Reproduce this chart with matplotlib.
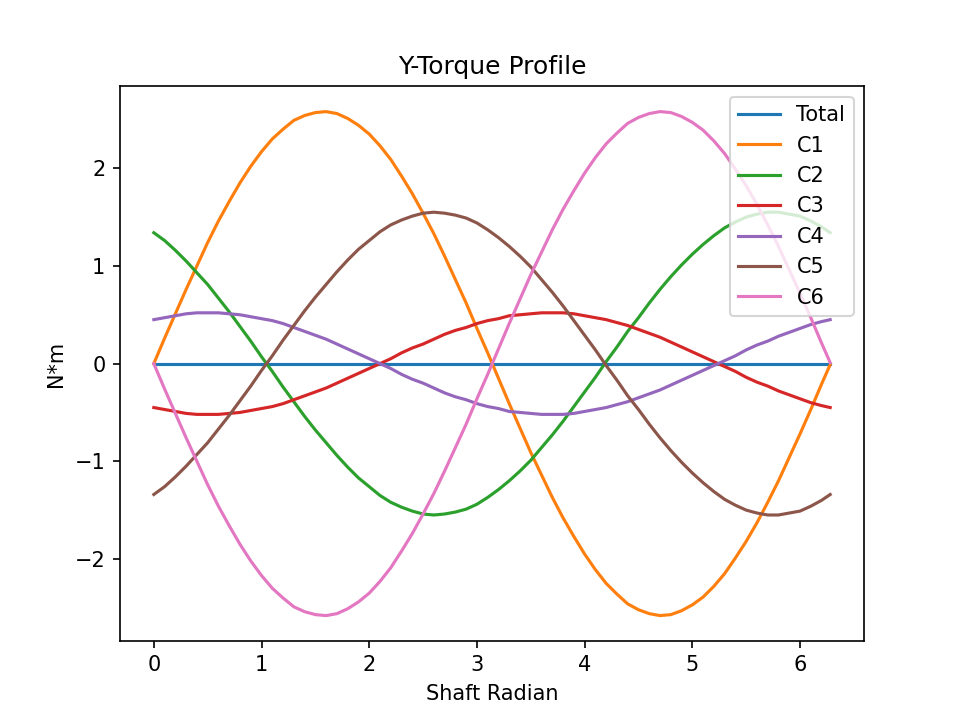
import matplotlib
matplotlib.use("Agg")
import matplotlib.pyplot as plt

# Shaft angle samples (rad)
shaft_rad = [0.0, 0.1, 0.2, 0.3, 0.4, 0.5, 0.6, 0.7, 0.8, 0.9,
             1.0, 1.1, 1.2, 1.3, 1.4, 1.5, 1.6, 1.7, 1.8, 1.9,
             2.0, 2.1, 2.2, 2.3, 2.4, 2.5, 2.6, 2.7, 2.8, 2.9,
             3.0, 3.1, 3.2, 3.3, 3.4, 3.5, 3.6, 3.7, 3.8, 3.9,
             4.0, 4.1, 4.2, 4.3, 4.4, 4.5, 4.6, 4.7, 4.8, 4.9,
             5.0, 5.1, 5.2, 5.3, 5.4, 5.5, 5.6, 5.7, 5.8, 5.9,
             6.0, 6.1, 6.2, 6.28]

# Torque per component (N*m)
total = [0.0] * 64
c1 = [0.0, 0.26, 0.51, 0.76, 1.00, 1.24, 1.46, 1.66, 1.85, 2.02,
      2.17, 2.30, 2.40, 2.49, 2.54, 2.57, 2.58, 2.56, 2.51, 2.44,
      2.35, 2.23, 2.09, 1.92, 1.74, 1.54, 1.33, 1.10, 0.86, 0.62,
      0.36, 0.11, -0.15, -0.41, -0.66, -0.91, -1.14, -1.37, -1.58, -1.77,
      -1.95, -2.11, -2.25, -2.36, -2.46, -2.52, -2.56, -2.58, -2.57, -2.53,
      -2.47, -2.39, -2.28, -2.15, -1.99, -1.82, -1.63, -1.42, -1.20, -0.96,
      -0.72, -0.47, -0.21, -0.01]
c2 = [1.34, 1.26, 1.16, 1.05, 0.93, 0.81, 0.67, 0.53, 0.38, 0.23,
      0.07, -0.08, -0.24, -0.39, -0.54, -0.68, -0.81, -0.94, -1.06, -1.17,
      -1.26, -1.35, -1.42, -1.47, -1.51, -1.54, -1.55, -1.54, -1.52, -1.49,
      -1.44, -1.37, -1.29, -1.20, -1.10, -0.99, -0.86, -0.73, -0.59, -0.44,
      -0.29, -0.14, 0.02, 0.17, 0.33, 0.47, 0.62, 0.76, 0.89, 1.01,
      1.12, 1.22, 1.31, 1.39, 1.45, 1.50, 1.53, 1.55, 1.55, 1.53,
      1.51, 1.46, 1.40, 1.34]
c3 = [-0.45, -0.47, -0.49, -0.51, -0.52, -0.52, -0.52, -0.51, -0.50, -0.48,
      -0.46, -0.44, -0.41, -0.37, -0.33, -0.29, -0.25, -0.20, -0.15, -0.10,
      -0.05, 0.00, 0.05, 0.11, 0.16, 0.20, 0.25, 0.30, 0.34, 0.37,
      0.41, 0.44, 0.46, 0.49, 0.50, 0.51, 0.52, 0.52, 0.52, 0.51,
      0.49, 0.47, 0.45, 0.42, 0.39, 0.35, 0.31, 0.27, 0.22, 0.17,
      0.12, 0.07, 0.02, -0.03, -0.08, -0.14, -0.19, -0.23, -0.28, -0.32,
      -0.36, -0.40, -0.43, -0.45]
c4 = [0.45, 0.47, 0.49, 0.51, 0.52, 0.52, 0.52, 0.51, 0.50, 0.48,
      0.46, 0.44, 0.41, 0.37, 0.33, 0.29, 0.25, 0.20, 0.15, 0.10,
      0.05, 0.00, -0.05, -0.11, -0.16, -0.20, -0.25, -0.30, -0.34, -0.37,
      -0.41, -0.44, -0.46, -0.49, -0.50, -0.51, -0.52, -0.52, -0.52, -0.51,
      -0.49, -0.47, -0.45, -0.42, -0.39, -0.35, -0.31, -0.27, -0.22, -0.17,
      -0.12, -0.07, -0.02, 0.03, 0.08, 0.14, 0.19, 0.23, 0.28, 0.32,
      0.36, 0.40, 0.43, 0.45]
c5 = [-1.34, -1.26, -1.16, -1.05, -0.93, -0.81, -0.67, -0.53, -0.38, -0.23,
      -0.07, 0.08, 0.24, 0.39, 0.54, 0.68, 0.81, 0.94, 1.06, 1.17,
      1.26, 1.35, 1.42, 1.47, 1.51, 1.54, 1.55, 1.54, 1.52, 1.49,
      1.44, 1.37, 1.29, 1.20, 1.10, 0.99, 0.86, 0.73, 0.59, 0.44,
      0.29, 0.14, -0.02, -0.17, -0.33, -0.47, -0.62, -0.76, -0.89, -1.01,
      -1.12, -1.22, -1.31, -1.39, -1.45, -1.50, -1.53, -1.55, -1.55, -1.53,
      -1.51, -1.46, -1.40, -1.34]
c6 = [0.0, -0.26, -0.51, -0.76, -1.00, -1.24, -1.46, -1.66, -1.85, -2.02,
      -2.17, -2.30, -2.40, -2.49, -2.54, -2.57, -2.58, -2.56, -2.51, -2.44,
      -2.35, -2.23, -2.09, -1.92, -1.74, -1.54, -1.33, -1.10, -0.86, -0.62,
      -0.36, -0.11, 0.15, 0.41, 0.66, 0.91, 1.14, 1.37, 1.58, 1.77,
      1.95, 2.11, 2.25, 2.36, 2.46, 2.52, 2.56, 2.58, 2.57, 2.53,
      2.47, 2.39, 2.28, 2.15, 1.99, 1.82, 1.63, 1.42, 1.20, 0.96,
      0.72, 0.47, 0.21, 0.01]

labels = ["Total", "C1", "C2", "C3", "C4", "C5", "C6"]
series = [total, c1, c2, c3, c4, c5, c6]

fig = plt.figure(figsize=(6.4, 4.8), dpi=150)
for lbl, vals in zip(labels, series):
    plt.plot(shaft_rad, vals, label=lbl)
plt.title("Y-Torque Profile")
plt.xlabel("Shaft Radian")
plt.ylabel("N*m")
plt.legend(loc="upper right")
plt.savefig("out.png", dpi=150)
